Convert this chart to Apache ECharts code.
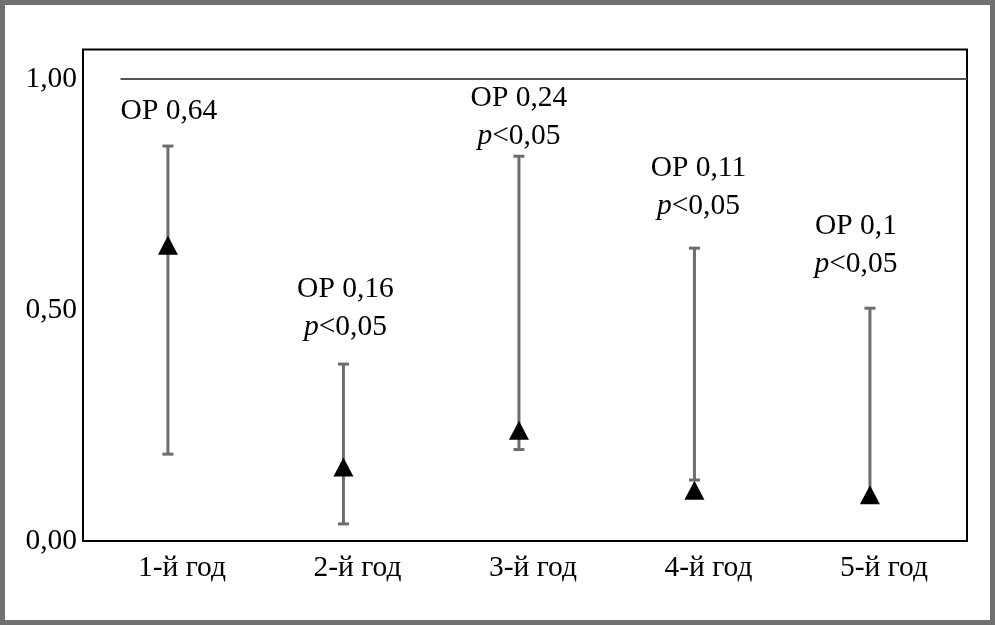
<!DOCTYPE html>
<html><head><meta charset="utf-8">
<script src="https://cdn.jsdelivr.net/npm/echarts@6/dist/echarts.min.js"></script>
<style>html,body{margin:0;padding:0;background:#fff}#chart{width:995px;height:625px}</style>
</head><body><div id="chart"></div>
<script>
// ---- data ----
const categories = ['1-й год', '2-й год', '3-й год', '4-й год', '5-й год'];
const estimates  = [0.64, 0.16, 0.24, 0.11, 0.10];
const upperCI    = [0.855, 0.383, 0.833, 0.634, 0.504];
const lowerCI    = [0.188, 0.037, 0.198, 0.132, 0.095];
const orLabels   = ['ОР 0,64', 'ОР 0,16', 'ОР 0,24', 'ОР 0,11', 'ОР 0,1'];
const pLabels    = ['', 'p<0,05', 'p<0,05', 'p<0,05', 'p<0,05'];
const yTicks     = [0, 0.5, 1];
const refValue   = 1;

// ---- layout / style ----
const FONT = 'Liberation Serif, Times New Roman, serif';
const FS = 29.5;
const barColor = '#6d6d6d';
const labelOffsets = [[1, -16], [2, -18], [0, -1], [4, -23], [-14, -25]];
const xMin = -0.484, xMax = 4.553, refStart = -0.27;

const xIdx = categories.map((c, i) => i);

const chart = echarts.init(document.getElementById('chart'), null, {renderer: 'canvas'});
const fmtY = v => v.toFixed(2).replace('.', ',');

chart.setOption({
  backgroundColor: '#fff',
  animation: false,
  graphic: [{
    type: 'rect', silent: true, z: 100,
    shape: {x: 2.5, y: 2.5, width: 990, height: 620},
    style: {fill: null, stroke: '#707070', lineWidth: 5}
  }],
  grid: {left: 83, right: 28, top: 49.5, bottom: 84, show: true, borderColor: '#000', borderWidth: 2, backgroundColor: 'transparent'},
  xAxis: {
    type: 'value', min: xMin, max: xMax,
    axisLine: {show: false}, axisTick: {show: false}, splitLine: {show: false},
    axisLabel: {
      customValues: xIdx,
      formatter: v => categories[Math.round(v)] || '',
      fontFamily: FONT, fontSize: FS, color: '#000', margin: 12, padding: [0, 0, 0, 28]
    }
  },
  yAxis: {
    type: 'value', min: 0, max: 1.064, interval: 0.5,
    axisLine: {show: false}, axisTick: {show: false}, splitLine: {show: false},
    axisLabel: {
      customValues: yTicks,
      formatter: v => fmtY(v),
      fontFamily: FONT, fontSize: FS, color: '#000', margin: 6
    }
  },
  series: [
    {
      type: 'line', silent: true, symbol: 'none', z: 1,
      data: [[refStart, refValue], [xMax, refValue]],
      lineStyle: {color: '#555', width: 2}
    },
    {
      type: 'custom', z: 2,
      data: xIdx.map(i => [i, upperCI[i], lowerCI[i]]),
      renderItem: (params, api) => {
        const i = api.value(0);
        const top = api.coord([i, api.value(1)]);
        const bot = api.coord([i, api.value(2)]);
        const hw = 5.5;
        const idx = params.dataIndex;
        const off = labelOffsets[idx];
        let txt = '{n|' + orLabels[idx] + '}';
        if (pLabels[idx]) txt += '\n{i|' + pLabels[idx].charAt(0) + '}{n|' + pLabels[idx].slice(1) + '}';
        const st = {stroke: barColor, lineWidth: 3};
        return {type: 'group', children: [
          {type: 'line', shape: {x1: top[0], y1: top[1], x2: bot[0], y2: bot[1]}, style: st},
          {type: 'line', shape: {x1: top[0] - hw, y1: top[1], x2: top[0] + hw, y2: top[1]}, style: st},
          {type: 'line', shape: {x1: bot[0] - hw, y1: bot[1], x2: bot[0] + hw, y2: bot[1]}, style: st},
          {type: 'text', x: top[0] + off[0], y: top[1] + off[1], style: {
            text: txt, align: 'center', verticalAlign: 'bottom', fill: '#000',
            rich: {
              n: {fontFamily: FONT, fontSize: FS, lineHeight: 38, fill: '#000'},
              i: {fontFamily: FONT, fontSize: FS, lineHeight: 38, fontStyle: 'italic', fill: '#000'}
            }
          }}
        ]};
      }
    },
    {
      type: 'scatter', z: 3,
      symbol: 'triangle', symbolSize: [20, 19],
      itemStyle: {color: '#000', opacity: 1},
      data: xIdx.map(i => [i, estimates[i]])
    }
  ]
});
</script></body></html>
